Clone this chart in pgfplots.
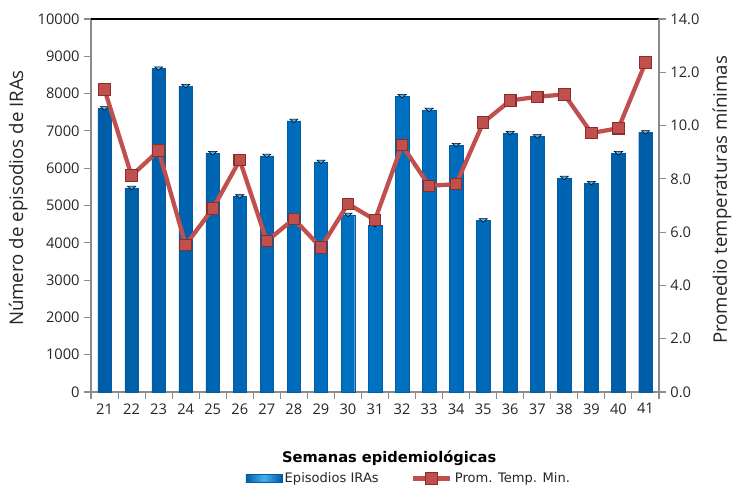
\documentclass[border=0pt]{standalone}
\usepackage{pgfplots}
\pgfplotsset{compat=1.18}
\usepackage{pgfplotstable}
\usepackage{fontspec}
\setmainfont{Open Sans}
\newfontfamily\legfont{DejaVu Sans}
\definecolor{barblue}{RGB}{0,114,196}
\definecolor{bardark}{RGB}{0,92,165}
\definecolor{barlight}{RGB}{70,175,240}
\definecolor{linered}{RGB}{192,80,77}
\definecolor{markdark}{RGB}{140,45,43}
\definecolor{axgrey}{RGB}{140,140,140}
\definecolor{txt}{RGB}{38,38,38}

\pgfplotsset{mylinelegend/.style={legend image code/.code={\draw[mark repeat=2, mark phase=2, ##1] plot coordinates {(0pt,0pt) (14pt,0pt) (28pt,0pt)};}}}

\pgfplotstableread{
week ira temp
21 7600 11.35
22 5470 8.12
23 8670 9.06
24 8200 5.52
25 6400 6.88
26 5240 8.70
27 6330 5.66
28 7270 6.50
29 6170 5.42
30 4750 7.06
31 4470 6.46
32 7930 9.27
33 7560 7.74
34 6620 7.80
35 4600 10.11
36 6940 10.94
37 6850 11.08
38 5740 11.17
39 5600 9.72
40 6400 9.90
41 6960 12.36
}\data

\begin{document}
\begin{tikzpicture}
\path[use as bounding box] (-68.25pt,-69.75pt) rectangle (482.25pt,294pt);
\pgfplotsset{common/.style={
  scale only axis, width=426pt, height=279.75pt,
  xmin=20.5, xmax=41.5, at={(0,0)}, anchor=south west,
  tick label style={font=\fontsize{11}{13}\selectfont, text=txt},
  /pgf/number format/assume math mode=true,
  tick align=outside,
  label style={font=\fontsize{14}{16}\selectfont, text=txt},
}}
\begin{axis}[common,
  axis x line*=bottom, axis y line*=left,
  axis line style={axgrey, line width=0.8pt},
  ymin=0, ymax=10000, ytick={0,1000,...,10000},
  scaled y ticks=false,
  yticklabel style={/pgf/number format/.cd, fixed, 1000 sep={}},
  xtick={21,...,41}, minor xtick={20.5,21.5,...,41.5},
  major x tick style={draw=none},
  minor x tick style={axgrey, line width=0.8pt},
  minor tick length=5pt,
  ytick style={axgrey, line width=0.8pt},
  major tick length=5pt,
  ylabel={Número de episodios de IRAs},
  ylabel style={at={(axis description cs:-0.128,0.52)}, anchor=center, rotate=0},
  xlabel={\bfseries\legfont Semanas epidemiológicas},
  xlabel style={at={(axis description cs:0.525,-0.177)}, anchor=center, font=\fontsize{11}{13}\selectfont, text=black},
]
\addplot[ybar, bar width=0.5, draw=bardark, line width=0.3pt,
  left color=bardark, right color=bardark, middle color=barblue]
  table[x=week, y=ira] {\data};
\addplot[only marks, mark=triangle*, mark size=3.6pt,
  mark options={yscale=-0.5, yshift=-0.9pt, fill=barlight, draw=none}]
  table[x=week, y=ira] {\data};
\draw[black, line width=1pt] (rel axis cs:0,1) -- (rel axis cs:1,1);
\end{axis}
\begin{axis}[common,
  axis x line=none, axis y line*=right,
  axis line style={axgrey, line width=0.8pt},
  ymin=0, ymax=14, ytick={0,2,...,14},
  yticklabel style={/pgf/number format/.cd, fixed, fixed zerofill, precision=1},
  ytick style={axgrey, line width=0.8pt},
  major tick length=5pt,
  ylabel={Promedio temperaturas mínimas},
  ylabel style={at={(axis description cs:1.111,0.515)}, anchor=center, rotate=0},
  legend columns=2,
  legend style={draw=none, fill=none, at={(0.56,-0.232)}, anchor=center,
    font=\legfont\fontsize{9.8}{11}\selectfont, text=txt,
    /tikz/every even column/.append style={column sep=22pt},
    inner sep=0pt},
]
\addlegendimage{legend image code/.code={\draw[draw=bardark, left color=bardark, right color=bardark, middle color=barlight] (0pt,-3pt) rectangle (27pt,3pt);}}
\addlegendentry{Episodios IRAs}
\addplot[linered, line width=3.2pt, mark=square*, mark size=4.3pt,
  mark options={fill=linered, draw=markdark, line width=0.8pt},
  mylinelegend]
  table[x=week, y=temp] {\data};
\addlegendentry{Prom. Temp. Min.}
\end{axis}
\end{tikzpicture}
\end{document}
